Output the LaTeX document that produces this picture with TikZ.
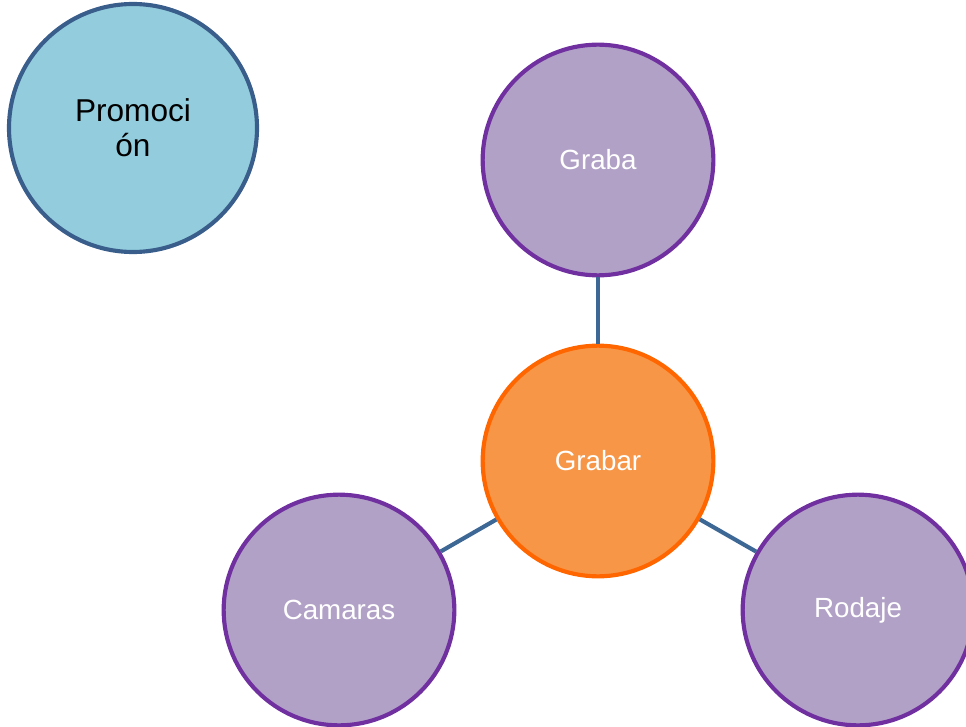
\documentclass[tikz,border=0pt]{standalone}
\usepackage{fontspec}
\setmainfont{Liberation Sans}
\usepackage{xcolor}
\definecolor{promofill}{HTML}{93CDDD}
\definecolor{promoline}{HTML}{3A5E8C}
\definecolor{lilafill}{HTML}{B2A1C7}
\definecolor{lilaline}{HTML}{7030A0}
\definecolor{naranjafill}{HTML}{F79646}
\definecolor{naranjaline}{HTML}{FF6600}
\definecolor{enlace}{HTML}{3D6795}

\begin{document}
\begin{tikzpicture}[x=0.75pt,y=-0.75pt,
    burbuja/.style={circle,draw=lilaline,fill=lilafill,line width=3.1pt,
      minimum size=173pt,inner sep=0pt,text=white,font=\fontsize{20.8}{24}\selectfont},
    centro/.style={burbuja,draw=naranjaline,fill=naranjafill},
    promo/.style={burbuja,draw=promoline,fill=promofill,minimum size=186pt,
      text=black,align=center,font=\fontsize{23.7}{26.5}\selectfont},
    enlace/.style={draw=enlace,line width=3.1pt}]
  \useasboundingbox (0,0) rectangle (966,727);
  \clip (0,0) rectangle (966,727);
  \node[promo] (promocion) at (133,128) {Promoci\\ón};
  \node[burbuja] (graba) at (598,160) {Graba};
  \node[centro] (grabar) at (598,461) {Grabar};
  \node[burbuja] (camaras) at (339,610) {Camaras};
  \node[burbuja] (rodaje) at (858,610) {Rodaje};
  \draw[enlace] (grabar) -- (graba);
  \draw[enlace] (grabar) -- (camaras);
  \draw[enlace] (grabar) -- (rodaje);
\end{tikzpicture}
\end{document}
